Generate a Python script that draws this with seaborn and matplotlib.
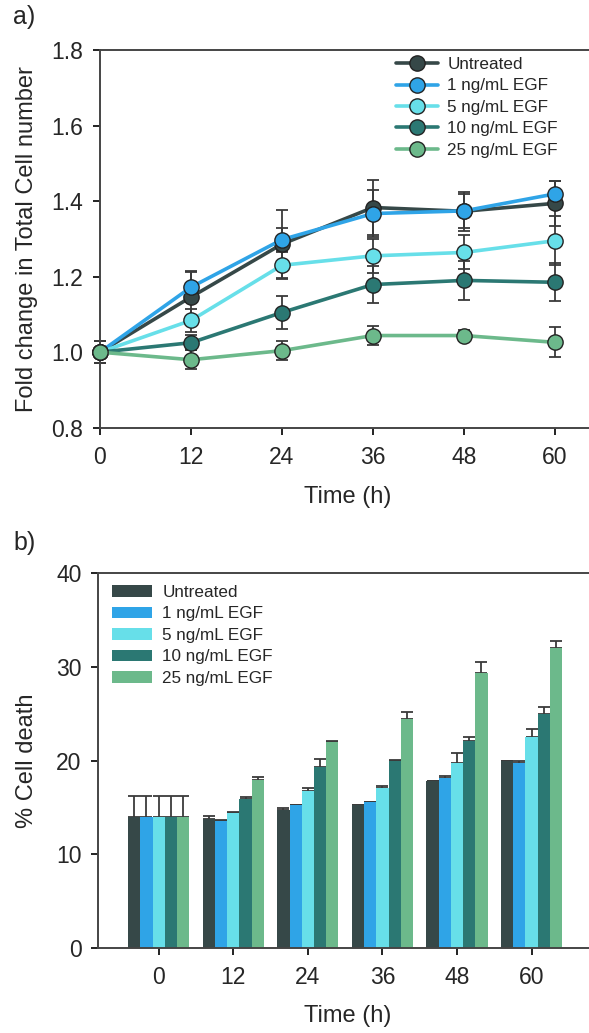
import numpy as np
import pandas as pd
import matplotlib
matplotlib.use("Agg")
import matplotlib.pyplot as plt
from matplotlib.lines import Line2D
from matplotlib.patches import Patch
import seaborn as sns

# ---------------- data ----------------
times = [0, 12, 24, 36, 48, 60]
groups = ["Untreated", "1 ng/mL EGF", "5 ng/mL EGF", "10 ng/mL EGF", "25 ng/mL EGF"]
colors = ["#364848", "#2fa4e7", "#67dfe9", "#2b7873", "#6cb98b"]

# panel a: fold change in total cell number
fold_untreated = [1.00, 1.146, 1.286, 1.383, 1.373, 1.394]
fold_egf1 = [1.00, 1.172, 1.298, 1.367, 1.374, 1.419]
fold_egf5 = [1.00, 1.084, 1.230, 1.255, 1.264, 1.295]
fold_egf10 = [1.00, 1.025, 1.105, 1.179, 1.190, 1.185]
fold_egf25 = [1.00, 0.980, 1.004, 1.044, 1.044, 1.026]

fold_err_untreated = [0.03, 0.068, 0.090, 0.072, 0.052, 0.060]
fold_err_egf1 = [0.03, 0.040, 0.030, 0.062, 0.045, 0.035]
fold_err_egf5 = [0.03, 0.030, 0.035, 0.045, 0.045, 0.065]
fold_err_egf10 = [0.03, 0.020, 0.045, 0.048, 0.052, 0.050]
fold_err_egf25 = [0.03, 0.025, 0.025, 0.025, 0.015, 0.040]

# panel b: % cell death
death_untreated = [14.0, 13.73, 14.73, 15.23, 17.79, 19.96]
death_egf1 = [14.0, 13.59, 15.23, 15.55, 18.17, 19.78]
death_egf5 = [14.0, 14.44, 16.79, 17.11, 19.71, 22.49]
death_egf10 = [14.0, 15.87, 19.29, 19.99, 22.09, 24.94]
death_egf25 = [14.0, 17.93, 22.02, 24.41, 29.32, 32.05]

death_err_untreated = [2.25, 0.40, 0.20, 0.05, 0.05, 0.05]
death_err_egf1 = [2.25, 0.10, 0.05, 0.05, 0.15, 0.15]
death_err_egf5 = [2.25, 0.10, 0.30, 0.20, 1.15, 0.85]
death_err_egf10 = [2.25, 0.20, 0.85, 0.05, 0.40, 0.75]
death_err_egf25 = [2.25, 0.30, 0.05, 0.80, 1.20, 0.75]

fold_all = [fold_untreated, fold_egf1, fold_egf5, fold_egf10, fold_egf25]
fold_err_all = [fold_err_untreated, fold_err_egf1, fold_err_egf5, fold_err_egf10, fold_err_egf25]
death_all = [death_untreated, death_egf1, death_egf5, death_egf10, death_egf25]
death_err_all = [death_err_untreated, death_err_egf1, death_err_egf5, death_err_egf10, death_err_egf25]

rows_a = []
rows_b = []
for g, fv, fe, dv, de in zip(groups, fold_all, fold_err_all, death_all, death_err_all):
    for t, a, ae, b, be in zip(times, fv, fe, dv, de):
        rows_a.append({"time": t, "fold": a, "err": ae, "group": g})
        rows_b.append({"time": t, "death": b, "err": be, "group": g})
df_a = pd.DataFrame(rows_a)
df_b = pd.DataFrame(rows_b)

# ---------------- style ----------------
sns.set_style("ticks")
plt.rcParams["font.family"] = ["Liberation Sans", "DejaVu Sans"]
spine_col = "#454545"
tick_fs = 16.5
label_fs = 17
leg_fs = 12.3

W, H = 589, 1033
fig = plt.figure(figsize=(W / 100, H / 100), dpi=100)

ax1 = fig.add_axes([100 / W, 1 - 427.7 / H, (W - 100) / W, (427.7 - 50) / H])
ax2 = fig.add_axes([98.3 / W, 1 - 948 / H, (W - 98.3) / W, (948 - 573.3) / H])

palette = dict(zip(groups, colors))

# ---------------- panel a ----------------
for g in groups:
    sub = df_a[df_a["group"] == g]
    ax1.errorbar(sub["time"], sub["fold"], yerr=sub["err"], fmt="none",
                 ecolor="#3a3a3a", elinewidth=1.3, capsize=4.5, capthick=1.3,
                 zorder=2, clip_on=False)

sns.lineplot(data=df_a, x="time", y="fold", hue="group", hue_order=groups,
             palette=palette, marker="o", markersize=11, markeredgecolor="#222222",
             markeredgewidth=1.0, linewidth=2.6, ax=ax1, legend=False,
             clip_on=False, zorder=3)

ax1.set_xlim(0, 64.5)
ax1.set_ylim(0.8, 1.8)
ax1.set_xticks(times)
ax1.set_yticks([0.8, 1.0, 1.2, 1.4, 1.6, 1.8])
ax1.set_yticklabels(["0.8", "1.0", "1.2", "1.4", "1.6", "1.8"])
ax1.set_xlabel("Time (h)", fontsize=label_fs)
ax1.set_ylabel("Fold change in Total Cell number", fontsize=label_fs)
ax1.xaxis.set_label_coords((348 - 100) / (W - 100), -(486 - 427.7) / (427.7 - 50))
ax1.yaxis.set_label_coords((38 - 100) / (W - 100), 0.5)

handles_a = [Line2D([0], [0], color=c, lw=2.6, marker="o", markersize=11,
                    markerfacecolor=c, markeredgecolor="#222222", markeredgewidth=1.0)
             for c in colors]
ax1.legend(handles_a, groups, loc="upper left",
           bbox_to_anchor=((396 - 100) / (W - 100), (427.7 - 57) / (427.7 - 50)),
           frameon=False, fontsize=leg_fs, handlelength=2.45, handletextpad=0.55,
           labelspacing=0.38, borderpad=0, borderaxespad=0)

# ---------------- panel b ----------------
df_b["time_s"] = df_b["time"].astype(str)
sns.barplot(data=df_b, x="time_s", y="death", hue="group", hue_order=groups,
            order=[str(t) for t in times], palette=palette, saturation=1,
            width=0.82, errorbar=None, ax=ax2, legend=False, linewidth=0,
            zorder=2)

for cont, g in zip(ax2.containers, groups):
    sub = df_b[df_b["group"] == g]
    xs = [p.get_x() + p.get_width() / 2 for p in cont.patches]
    hs = [p.get_height() for p in cont.patches]
    errs = sub["err"].to_numpy()
    ax2.errorbar(xs, hs, yerr=[np.zeros_like(errs), errs], fmt="none",
                 ecolor="#3a3a3a", elinewidth=1.3, capsize=4.3, capthick=1.3,
                 zorder=1.5)

ax2.set_xlim(-0.81, 5.77)
ax2.set_ylim(0, 40)
ax2.set_yticks([0, 10, 20, 30, 40])
ax2.set_xlabel("Time (h)", fontsize=label_fs)
ax2.set_ylabel("% Cell death", fontsize=label_fs)
ax2.xaxis.set_label_coords((348 - 98.3) / (W - 98.3), -(1005 - 948) / (948 - 573.3))
ax2.yaxis.set_label_coords((38 - 98.3) / (W - 98.3), 0.5)

handles_b = [Patch(facecolor=c, edgecolor="none") for c in colors]
ax2.legend(handles_b, groups, loc="upper left",
           bbox_to_anchor=((112 - 98.3) / (W - 98.3), (948 - 585) / (948 - 573.3)),
           frameon=False, fontsize=leg_fs, handlelength=2.35, handleheight=0.65,
           handletextpad=0.6, labelspacing=0.38, borderpad=0, borderaxespad=0)

# ---------------- common styling ----------------
for ax in (ax1, ax2):
    ax.spines["right"].set_visible(False)
    for s in ("left", "bottom", "top"):
        ax.spines[s].set_visible(True)
        ax.spines[s].set_color(spine_col)
        ax.spines[s].set_linewidth(1.4)
    ax.tick_params(axis="both", direction="out", length=5, width=1.4,
                   color="#222222", labelsize=tick_fs)
    ax.tick_params(axis="x", pad=8)
    ax.tick_params(axis="y", pad=7)
    ax.set_facecolor("white")

fig.text(13 / W, 1 - 17 / H, "a)", fontsize=18, va="center", ha="left")
fig.text(13 / W, 1 - 543 / H, "b)", fontsize=18, va="center", ha="left")

fig.savefig("out.png", dpi=100, facecolor="white")
